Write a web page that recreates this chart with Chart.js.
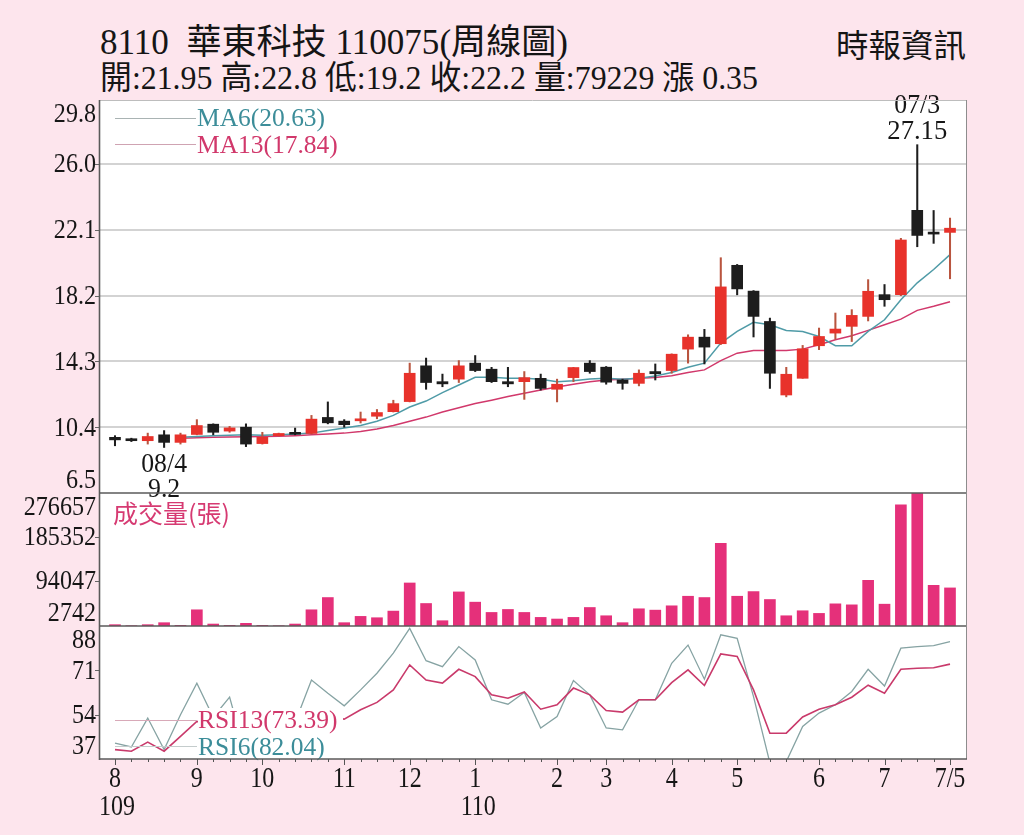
<!DOCTYPE html>
<html lang="zh-Hant"><head><meta charset="utf-8"><title>華東科技 周線圖</title>
<script src="https://cdn.jsdelivr.net/npm/chart.js@4.4.1/dist/chart.umd.min.js"></script>
<style>
html,body{margin:0;padding:0;background:#fde5ed;}
body{width:1024px;height:835px;position:relative;overflow:hidden;}
canvas{position:absolute;left:0;top:0;}
.t{position:absolute;white-space:pre;transform-origin:0 0;color:#151515;font-family:'Liberation Serif','Noto Sans CJK TC',serif;line-height:1;}
</style></head><body>
<div class="t" data-w="468" style="left:100px;top:25px;font-size:35px;">8110  華東科技 110075(周線圖)</div>
<div class="t" data-w="658" style="left:100px;top:62px;font-size:33px;">開:21.95 高:22.8 低:19.2 收:22.2 量:79229 漲 0.35</div>
<div class="t" data-w="130" style="left:836px;top:30px;font-size:32px;">時報資訊</div>
<canvas id="cp" width="1024" height="835"></canvas>
<canvas id="cv" width="1024" height="835"></canvas>
<canvas id="cr" width="1024" height="835"></canvas>
<script>
// ---------------- data ----------------
const openP=[9.8,9.7,9.6,9.95,9.5,9.97,10.58,10.17,10.4,9.43,
 9.9,10.0,10.03,10.98,10.76,10.78,11.05,11.32,11.92,14.04,
 13.1,13.25,14.2,13.84,13.1,13.1,13.3,12.65,13.34,14.2,
 13.96,13.2,13.0,13.7,13.76,15.03,15.74,15.35,20.0,18.47,
 16.67,12.31,13.3,15.23,15.98,16.38,16.97,18.26,18.26,23.26,
 21.9,21.95];
const highP=[9.9,9.75,10.05,10.2,10.05,10.85,10.6,10.45,10.6,10.1,
 10.05,10.35,11.1,11.9,10.85,11.3,11.45,12.0,14.2,14.5,
 13.55,14.35,14.65,13.95,13.95,13.7,13.55,13.25,13.95,14.35,
 14.0,13.25,13.8,14.15,14.75,15.88,16.2,20.45,20.05,18.5,
 16.87,13.95,15.25,16.28,17.17,17.37,19.15,18.86,21.6,27.15,
 23.25,22.8];
const lowP=[9.3,9.55,9.4,9.2,9.4,9.95,9.95,10.1,9.25,9.4,
 9.88,9.95,10.0,10.6,10.4,10.65,10.9,11.3,11.9,12.65,
 12.8,13.05,13.7,13.05,12.8,12.05,12.6,11.9,13.1,13.6,
 12.95,12.65,12.85,13.2,13.6,14.2,14.15,15.3,18.25,15.75,
 12.7,12.2,13.3,15.0,15.62,15.48,16.7,17.57,18.2,21.1,
 21.3,19.2];
const closeP=[9.65,9.6,9.85,9.5,9.95,10.5,10.1,10.36,9.4,9.8,
 10.03,9.98,10.88,10.66,10.55,10.9,11.27,11.8,13.6,13.05,
 12.97,14.04,13.76,13.1,12.97,13.34,12.7,12.95,13.94,13.7,
 13.07,13.0,13.6,13.57,14.73,15.74,15.15,18.72,18.6,16.97,
 13.6,13.54,15.05,15.78,16.22,17.03,18.46,17.96,21.5,21.77,
 21.85,22.2];
const volume=[2750,600,2750,6880,1400,33700,4100,1400,5500,1400,
 600,4100,33700,59200,6900,20000,17200,31000,89500,46800,
 11000,70900,49600,28200,34400,28200,17900,14500,17900,38500,
 21300,6900,35800,33000,42000,61900,59200,172000,61900,71600,
 55100,21300,31700,26200,46100,44000,95000,45400,251900,276657,
 84600,79229];
const ma6=[null,null,null,null,9.8,9.85,9.9,9.93,9.95,9.92,
 9.95,10.0,10.05,10.2,10.35,10.5,10.75,11.1,11.6,11.95,
 12.45,12.9,13.36,13.36,13.3,13.3,13.24,13.1,13.16,13.26,
 13.3,13.24,13.3,13.44,13.64,13.96,14.2,15.39,16.08,16.62,
 16.48,16.14,16.08,15.78,15.23,15.23,16.08,16.77,17.96,18.96,
 19.75,20.63];
const ma13=[null,null,null,null,9.75,9.78,9.8,9.82,9.84,9.85,
 9.87,9.9,9.95,10.0,10.05,10.15,10.3,10.5,10.75,11.0,
 11.3,11.55,11.8,12.0,12.22,12.42,12.6,12.78,12.95,13.1,
 13.2,13.25,13.3,13.35,13.45,13.65,13.8,14.35,14.79,14.95,
 14.95,14.95,15.03,15.29,15.58,15.82,16.14,16.48,16.81,17.33,
 17.57,17.84];
const rsi6=[43.1,41.6,52.7,40.6,54.0,66.1,53,60.7,38,45,
 47,51,67.3,62.2,57.4,63.5,69.9,77.6,87.1,74.7,
 72.4,80.1,75.0,59.7,58.0,62.5,48.9,53.3,67.1,61.6,
 48.9,48.2,59.7,59.7,73.7,80.7,67.6,84.6,83.3,60.9,
 35.5,36,49.5,54.6,57.8,62.9,71.4,65.0,79.5,80.1,
 80.5,82.04];
const rsi13=[40.6,40.0,43.5,40.0,45.7,51.4,50,52,44,46,
 47,48,55,53,52.3,55.9,58.7,63.5,73.1,67.3,
 66.1,71.4,68.6,61.6,60.3,62.7,56.1,57.8,64.2,61.6,
 55.6,55.0,59.7,59.7,66.3,71.2,65.2,77.3,76.3,63.5,
 46.9,46.9,53.1,56.1,57.8,60.7,65.3,62.2,71.4,71.8,
 72.0,73.39];
const priceTicks=[6.5,10.4,14.3,18.2,22.1,26.0,29.8];
const priceTickLabels=['6.5','10.4','14.3','18.2','22.1','26.0','29.8'];
const volTicks=[0,2742,94047,185352,276657];
const volTickLabels=['','2742','94047','185352','276657'];
const rsiTicks=[37,54,71,88];
const rsiTickLabels=['37','54','71','88'];
const monthTickIdx=[0,5,9,14,18,22,27,30,34,38,43,47,51];
const monthTickLabels=['8','9','10','11','12','1','2','3','4','5','6','7','7/5'];
const yearTickIdx=[0,22];
const yearTickLabels=['109','110'];
const maLegend=['MA6(20.63)','MA13(17.84)'];
const rsiLegend=['RSI13(73.39)','RSI6(82.04)'];
const volTitle='成交量(張)';
const hiMark={idx:49,date:'07/3',val:'27.15'};
const loMark={idx:3,date:'08/4',val:'9.2'};

// ---------------- style / layout ----------------
const L=99,R=966,T=100,S1=493,S2=626,B=759,CW=1024,CH=835;
const XMIN=-0.977,XMAX=51.977;
const RED='#e8322b',REDWICK='#b9553f',BLK='#1d1d1d';
const TEAL='#4f9ba7',PINK='#d1386b',VOLC='#e5307a',RSI6C='#86a3a3',TEALTXT='#3c8d99';
const SERIF="'Liberation Serif','Times New Roman',serif";
const CJK="'Noto Sans CJK TC','Noto Sans CJK SC',sans-serif";

function txt(ctx,s,x,y,size,color,align,sx,font){
  ctx.save();
  ctx.font=size+'px '+(font||SERIF);
  ctx.fillStyle=color;ctx.textAlign=align||'left';ctx.textBaseline='middle';
  ctx.translate(x,y);ctx.scale(sx||1,1);
  ctx.fillText(s,0,0);ctx.restore();
}
function seg(ctx,x1,y1,x2,y2){ctx.beginPath();ctx.moveTo(x1,y1);ctx.lineTo(x2,y2);ctx.stroke();}
function yLabels(chart,ticks,labels){
  const ctx=chart.ctx,a=chart.chartArea,ys=chart.scales.y;
  ticks.forEach((v,k)=>{
    if(!labels[k])return;
    const p=ys.getPixelForValue(v);
    const y=Math.min(Math.max(p,a.top+14),a.bottom-13);
    txt(ctx,labels[k],96,y+1,28,'#161616','right',0.86);
    if(p>a.top+3&&p<a.bottom-3){ctx.save();ctx.strokeStyle='#666';ctx.lineWidth=1;seg(ctx,95,Math.round(p)+0.5,L,Math.round(p)+0.5);ctx.restore();}
  });
}
function xOpt(){return {type:'linear',min:XMIN,max:XMAX,offset:false,display:false};}
function yOpt(min,max,ticks,grid){
  return {type:'linear',min:min,max:max,display:true,
    afterBuildTicks:s=>{s.ticks=ticks.map(v=>({value:v}));},
    afterFit:s=>{s.width=0;},
    ticks:{display:false},border:{display:false},
    grid:{display:grid,drawTicks:false,lineWidth:2,
      color:c=>(c.tick&&(c.tick.value===min||c.tick.value===max))?'rgba(0,0,0,0)':'#d3d3d3'}};
}
function baseOpts(top,bottom,yo){
  return {responsive:false,animation:false,events:[],
    layout:{padding:{left:L,right:CW-R,top:top,bottom:CH-bottom}},
    plugins:{legend:{display:false},tooltip:{enabled:false}},
    scales:{x:xOpt(),y:yo}};
}
const up=closeP.map((c,i)=>c>=openP[i]);

// ---------------- price chart ----------------
new Chart(document.getElementById('cp'),{
  type:'bar',
  data:{datasets:[
    {type:'bar',label:'K',data:openP.map((o,i)=>({x:i,y:[o,closeP[i]]})),
      backgroundColor:up.map(u=>u?RED:BLK),barThickness:11,grouped:false,minBarLength:2,order:0},
    {type:'bar',label:'wick',data:lowP.map((l,i)=>({x:i,y:[l,highP[i]]})),
      backgroundColor:up.map(u=>u?REDWICK:BLK),barThickness:1.4,grouped:false,order:1},
    {type:'line',label:'MA6',data:ma6.map((v,i)=>({x:i,y:v})),borderColor:TEAL,borderWidth:1.5,pointRadius:0,tension:0,order:2},
    {type:'line',label:'MA13',data:ma13.map((v,i)=>({x:i,y:v})),borderColor:PINK,borderWidth:1.5,pointRadius:0,tension:0,order:3}
  ]},
  options:baseOpts(T,S1,yOpt(6.5,29.8,priceTicks,true)),
  plugins:[{id:'pp',
    beforeDraw(c){const ctx=c.ctx;ctx.save();ctx.fillStyle='#ffffff';ctx.fillRect(L,T,R-L,B-T);ctx.restore();},
    afterDraw(c){
      const ctx=c.ctx,xs=c.scales.x,ys=c.scales.y;
      yLabels(c,priceTicks,priceTickLabels);
      ctx.save();ctx.lineWidth=1;
      ctx.strokeStyle='#a9b3b3';seg(ctx,115,118.5,196,118.5);
      ctx.strokeStyle='#cfa3b2';seg(ctx,115,144.5,196,144.5);
      ctx.restore();
      txt(ctx,maLegend[0],197,119,26,TEALTXT,'left',0.98);
      txt(ctx,maLegend[1],197,146,26,PINK,'left',0.98);
      const hx=xs.getPixelForValue(hiMark.idx),hy=ys.getPixelForValue(highP[hiMark.idx]);
      txt(ctx,hiMark.date,hx,hy-39,28,'#161616','center',0.92);
      txt(ctx,hiMark.val,hx,hy-13,28,'#161616','center',0.95);
      const lx=xs.getPixelForValue(loMark.idx),ly=ys.getPixelForValue(lowP[loMark.idx]);
      txt(ctx,loMark.date,lx,ly+17,28,'#161616','center',0.92);
      txt(ctx,loMark.val,lx,ly+42,28,'#161616','center',0.92);
    }}]
});

// ---------------- volume chart ----------------
new Chart(document.getElementById('cv'),{
  type:'bar',
  data:{datasets:[{label:'volume',data:volume.map((v,i)=>({x:i,y:v})),backgroundColor:VOLC,barThickness:11,grouped:false}]},
  options:baseOpts(S1,S2,yOpt(0,276657,volTicks,false)),
  plugins:[{id:'vp',afterDraw(c){
    yLabels(c,volTicks,volTickLabels);
    txt(c.ctx,volTitle,113,513,25,'#d63a72','left',1,CJK);
  }}]
});

// ---------------- RSI chart ----------------
new Chart(document.getElementById('cr'),{
  type:'line',
  data:{datasets:[
    {label:'RSI13',data:rsi13.map((v,i)=>({x:i,y:v})),borderColor:'#c93a6b',borderWidth:1.6,pointRadius:0,tension:0,order:0},
    {label:'RSI6',data:rsi6.map((v,i)=>({x:i,y:v})),borderColor:RSI6C,borderWidth:1.3,pointRadius:0,tension:0,order:1}
  ]},
  options:baseOpts(S2,B,yOpt(37,88,rsiTicks,false)),
  plugins:[{id:'rp',afterDraw(c){
    const ctx=c.ctx,xs=c.scales.x;
    ctx.save();ctx.fillStyle='#ffffff';ctx.fillRect(198,708,145,50);
    ctx.lineWidth=1;ctx.strokeStyle='#d8a9b8';seg(ctx,115,720.5,197,720.5);
    ctx.strokeStyle='#c4cccc';seg(ctx,115,746.5,197,746.5);ctx.restore();
    txt(ctx,rsiLegend[0],198,721,26,PINK,'left',0.98);
    txt(ctx,rsiLegend[1],198,748,26,TEALTXT,'left',0.98);
    yLabels(c,rsiTicks,rsiTickLabels);
    ctx.save();
    ctx.lineWidth=1;ctx.strokeStyle='#bdbdbd';seg(ctx,L,T+0.5,R,T+0.5);
    ctx.strokeStyle='#8d8d8d';seg(ctx,R+0.5,T,R+0.5,B);
    ctx.strokeStyle='#5a5a5a';ctx.lineWidth=1.6;
    seg(ctx,L+0.5,T,L+0.5,B+1);seg(ctx,L,S1,R,S1);seg(ctx,L,S2,R,S2);seg(ctx,L,B,R+1,B);
    ctx.lineWidth=1;ctx.strokeStyle='#555';
    for(let i=0;i<volume.length;i++){
      const x=Math.round(xs.getPixelForValue(i))+0.5;
      seg(ctx,x,B,x,B+(monthTickIdx.includes(i)?6:3));
    }
    ctx.restore();
    monthTickIdx.forEach((idx,k)=>txt(ctx,monthTickLabels[k],xs.getPixelForValue(idx),779,30,'#161616','center',0.8));
    yearTickIdx.forEach((idx,k)=>txt(ctx,yearTickLabels[k],xs.getPixelForValue(idx)+(k===0?2:3),807,30,'#161616','center',0.8));
  }}]
});

function fitHeads(){
  document.querySelectorAll('.t').forEach(el=>{
    el.style.transform='none';
    const w=el.getBoundingClientRect().width,tw=+el.dataset.w;
    if(w>0)el.style.transform='scaleX('+(tw/w).toFixed(4)+')';
  });
}
fitHeads();
if(document.fonts&&document.fonts.ready)document.fonts.ready.then(fitHeads);
</script>
</body></html>
